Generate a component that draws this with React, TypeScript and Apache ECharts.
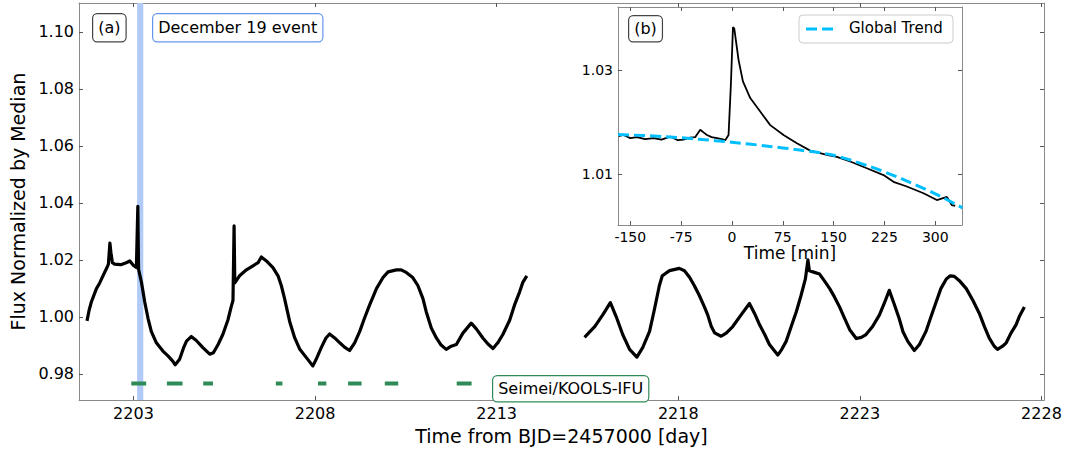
import React, { useEffect, useRef } from "react";
import * as echarts from "echarts";

// ---------- axis ticks ----------
const dayTicks = [2203, 2208, 2213, 2218, 2223, 2228];
const fluxTicks = [0.98, 1.0, 1.02, 1.04, 1.06, 1.08, 1.1];
const minuteTicks = [-150, -75, 0, 75, 150, 225, 300];
const insetFluxTicks = [1.01, 1.03];

// ---------- main light curve (two observing segments) ----------
const days1 = [
  2201.72, 2201.78, 2201.84, 2201.98, 2202.07, 2202.16, 2202.27, 2202.31, 2202.35, 2202.38,
  2202.42, 2202.48, 2202.65, 2202.8, 2202.9, 2203.0, 2203.08, 2203.12, 2203.14, 2203.22,
  2203.31, 2203.4, 2203.49, 2203.63, 2203.81, 2203.95, 2204.08, 2204.15, 2204.27, 2204.38,
  2204.46, 2204.59, 2204.73, 2204.91, 2205.1, 2205.2, 2205.33, 2205.46, 2205.6, 2205.69,
  2205.74, 2205.77, 2205.79, 2205.92, 2206.11, 2206.29, 2206.43, 2206.52, 2206.66, 2206.84,
  2206.98, 2207.07, 2207.16, 2207.3, 2207.44, 2207.58, 2207.76, 2207.94, 2208.03, 2208.17,
  2208.3, 2208.4, 2208.54, 2208.68, 2208.81, 2208.95, 2209.09, 2209.23, 2209.36, 2209.5,
  2209.69, 2209.87, 2210.01, 2210.24, 2210.37, 2210.51, 2210.69, 2210.83, 2210.97, 2211.06,
  2211.2, 2211.34, 2211.47, 2211.61, 2211.75, 2211.89, 2212.07, 2212.3, 2212.44, 2212.62,
  2212.76, 2212.9, 2213.03, 2213.17, 2213.36, 2213.49, 2213.63, 2213.72, 2213.83,
];
const flux1 = [
  0.9986, 1.0024, 1.0052, 1.0099, 1.0119, 1.0144, 1.0173, 1.0185, 1.0259, 1.0224,
  1.019, 1.0185, 1.0183, 1.019, 1.0196, 1.018, 1.0173, 1.0388, 1.0167, 1.0121,
  1.0052, 0.9995, 0.9949, 0.9909, 0.988, 0.9863, 0.9845, 0.9832, 0.9851, 0.9892,
  0.9915, 0.9931, 0.9917, 0.9892, 0.9869, 0.9874, 0.9903, 0.9938, 0.9989, 1.0035,
  1.0058, 1.0319, 1.0119, 1.0144, 1.0165, 1.0179, 1.019, 1.021, 1.0196, 1.0173,
  1.0144, 1.011, 1.0064, 0.9984, 0.9926, 0.9886, 0.9857, 0.9828, 0.9851, 0.9892,
  0.9926, 0.994, 0.9926, 0.9909, 0.9894, 0.9882, 0.9909, 0.9949, 0.9995, 1.0041,
  1.0099, 1.0138, 1.0158, 1.0165, 1.0165, 1.0156, 1.0138, 1.011, 1.0064, 1.0018,
  0.9961, 0.9926, 0.9901, 0.9886, 0.9897, 0.9903, 0.9943, 0.9978, 0.9958, 0.9926,
  0.9905, 0.9889, 0.9909, 0.9938, 0.9989, 1.0041, 1.0087, 1.0121, 1.0144,
];
const days2 = [
  2215.42, 2215.56, 2215.7, 2215.92, 2216.13, 2216.29, 2216.47, 2216.66, 2216.86, 2217.02,
  2217.21, 2217.34, 2217.48, 2217.56, 2217.76, 2218.03, 2218.17, 2218.31, 2218.44, 2218.58,
  2218.72, 2218.81, 2218.91, 2219.0, 2219.18, 2219.32, 2219.5, 2219.73, 2219.96, 2220.1,
  2220.24, 2220.38, 2220.51, 2220.74, 2220.85, 2220.97, 2221.11, 2221.25, 2221.38, 2221.5,
  2221.57, 2221.61, 2221.75, 2221.89, 2222.02, 2222.17, 2222.3, 2222.44, 2222.58, 2222.72,
  2222.9, 2223.04, 2223.17, 2223.35, 2223.54, 2223.67, 2223.81, 2223.94, 2224.08, 2224.19,
  2224.32, 2224.5, 2224.64, 2224.82, 2224.96, 2225.1, 2225.23, 2225.38, 2225.49, 2225.6,
  2225.74, 2225.93, 2226.11, 2226.29, 2226.43, 2226.56, 2226.7, 2226.79, 2226.93, 2227.03,
  2227.16, 2227.3, 2227.39, 2227.53,
];
const flux2 = [
  0.9928, 0.9947, 0.9966, 1.0007, 1.005, 1.0001, 0.9938, 0.9886, 0.9859, 0.9892,
  0.9949, 1.0024, 1.011, 1.0144, 1.0162, 1.017, 1.0162, 1.0139, 1.011, 1.0075,
  1.0035, 1.0007, 0.9966, 0.9944, 0.9932, 0.9943, 0.9966, 1.0007, 1.0047, 1.0012,
  0.9972, 0.9938, 0.9903, 0.9866, 0.9886, 0.9914, 0.9966, 1.0018, 1.0075, 1.0133,
  1.02, 1.0162, 1.0156, 1.015, 1.0127, 1.0099, 1.007, 1.0035, 0.9995, 0.9955,
  0.9924, 0.9928, 0.9938, 0.9966, 1.0007, 1.0047, 1.0093, 1.0047, 0.9995, 0.9947,
  0.9914, 0.9882, 0.9903, 0.9949, 1.0001, 1.0052, 1.0099, 1.0133, 1.0144, 1.0142,
  1.0127, 1.0099, 1.0058, 1.0012, 0.9966, 0.9926, 0.9897, 0.9886, 0.9897, 0.9909,
  0.9943, 0.9972, 1.0001, 1.0035,
];

// ---------- event band & spectroscopic coverage ----------
const eventBand = [2203.1, 2203.27];
const obsStart = [2202.94, 2203.92, 2204.92, 2206.92, 2208.08, 2208.91, 2209.92, 2211.9];
const obsEnd = [2203.35, 2204.35, 2205.19, 2207.1, 2208.31, 2209.28, 2210.29, 2212.31];
const obsLevel = 0.9766;

// ---------- inset (b): flare in minutes ----------
const insetMinutes = [
  -167.2, -160, -150, -140, -128, -115.6, -104, -91, -80, -71.4,
  -62, -54.1, -46.7, -42, -36.9, -30, -22.1, -15, -9.9, -5,
  -1.5, 1.5, 3.4, 9.8, 16.2, 27, 41.7, 56.5, 76.1, 95.8,
  115.5, 140, 154.8, 174.4, 199, 223.6, 238.3, 258, 282.6, 302.3,
  317.1, 324.5, 329.4,
];
const insetFlux = [
  1.0173, 1.0175, 1.0169, 1.0171, 1.0167, 1.0169, 1.0166, 1.0172, 1.0165, 1.0166,
  1.017, 1.0171, 1.0185, 1.018, 1.0175, 1.0171, 1.0169, 1.0167, 1.0165, 1.0175,
  1.0274, 1.0382, 1.038, 1.0319, 1.0278, 1.0246, 1.022, 1.0194, 1.0175, 1.0159,
  1.0145, 1.0137, 1.0133, 1.0124, 1.0111, 1.0098, 1.0085, 1.0076, 1.0063, 1.005,
  1.0056, 1.004, 1.0039,
];
const trendMinutes = [-168, -100, -50, 0, 50, 100, 150, 200, 250, 300, 340];
const trendFlux = [1.0176, 1.0172, 1.0167, 1.0161, 1.0154, 1.0146, 1.0136, 1.0116, 1.0091, 1.0062, 1.0035];

const FONT = "DejaVu Sans";
const SPINE = "#8a8a8a";

const zip = (xs: number[], ys: number[]) => xs.map((x, i) => [x, ys[i]]);

function valueAxis(opts: any) {
  const { gridIndex, position, min, max, ticks, labels, fontSize, fmt, extra } = opts;
  return {
    type: "value",
    gridIndex,
    position,
    min,
    max,
    splitLine: { show: false },
    axisLine: { show: true, onZero: false, lineStyle: { color: SPINE, width: 1 } },
    axisTick: { show: true, inside: true, length: 4, customValues: ticks, lineStyle: { color: "#555" } },
    axisLabel: {
      show: labels,
      customValues: ticks,
      formatter: fmt,
      color: "#000",
      fontFamily: FONT,
      fontSize,
      margin: 5,
    },
    ...(extra || {}),
  };
}

export default function App() {
  const ref = useRef<HTMLDivElement>(null);
  useEffect(() => {
    if (!ref.current) return;
    const chart = echarts.init(ref.current, undefined, { renderer: "svg" });

    const obsData: any[] = [];
    obsStart.forEach((s, i) => {
      obsData.push([s, obsLevel]);
      obsData.push([obsEnd[i], obsLevel]);
      obsData.push([(obsEnd[i] + (obsStart[i + 1] ?? obsEnd[i] + 1)) / 2, "-"]);
    });

    const mainData: any[] = [...zip(days1, flux1), [2214.6, "-"], ...zip(days2, flux2)];

    const textBox = (text: string, left: number, top: number, border: string, pad: number[]) => ({
      type: "text",
      left,
      top,
      z: 100,
      style: {
        text,
        font: `16px "${FONT}"`,
        fill: "#000",
        backgroundColor: "#fff",
        borderColor: border,
        borderWidth: 1.2,
        borderRadius: 4,
        padding: pad,
        lineHeight: 17,
      },
    });

    const option: any = {
      animation: false,
      backgroundColor: "#fff",
      grid: [
        { left: 79, top: 3, width: 965, height: 404, containLabel: false },
        {
          left: 618,
          top: 7,
          width: 344,
          height: 218,
          containLabel: false,
          show: true,
          backgroundColor: "#fff",
          borderWidth: 0,
          z: 10,
        },
      ],
      xAxis: [
        valueAxis({
          gridIndex: 0, position: "bottom", min: 2201.5, max: 2228.07, ticks: dayTicks, labels: true,
          fontSize: 16, fmt: (v: number) => String(v),
          extra: {
            name: "Time from BJD=2457000 [day]",
            nameLocation: "middle",
            nameGap: 20,
            nameTextStyle: { fontFamily: FONT, fontSize: 19, color: "#000" },
          },
        }),
        valueAxis({ gridIndex: 0, position: "top", min: 2201.5, max: 2228.07, ticks: dayTicks, labels: false }),
        valueAxis({
          gridIndex: 1, position: "bottom", min: -168.1, max: 339.4, ticks: minuteTicks, labels: true,
          fontSize: 14, fmt: (v: number) => String(v),
          extra: {
            z: 12,
            name: "Time [min]",
            nameLocation: "middle",
            nameGap: 18,
            nameTextStyle: { fontFamily: FONT, fontSize: 17, color: "#000" },
          },
        }),
        valueAxis({ gridIndex: 1, position: "top", min: -168.1, max: 339.4, ticks: minuteTicks, labels: false, extra: { z: 12 } }),
      ],
      yAxis: [
        valueAxis({
          gridIndex: 0, position: "left", min: 0.9708, max: 1.1101, ticks: fluxTicks, labels: true,
          fontSize: 16, fmt: (v: number) => v.toFixed(2),
          extra: {
            name: "Flux Normalized by Median",
            nameLocation: "middle",
            nameGap: 46,
            nameTextStyle: { fontFamily: FONT, fontSize: 19, color: "#000" },
          },
        }),
        valueAxis({ gridIndex: 0, position: "right", min: 0.9708, max: 1.1101, ticks: fluxTicks, labels: false }),
        valueAxis({
          gridIndex: 1, position: "left", min: 1.0002, max: 1.0421, ticks: insetFluxTicks, labels: true,
          fontSize: 14, fmt: (v: number) => v.toFixed(2), extra: { z: 12 },
        }),
        valueAxis({ gridIndex: 1, position: "right", min: 1.0002, max: 1.0421, ticks: insetFluxTicks, labels: false, extra: { z: 12 } }),
      ],
      series: [
        {
          name: "TESS",
          type: "line",
          xAxisIndex: 0,
          yAxisIndex: 0,
          data: mainData,
          showSymbol: false,
          connectNulls: false,
          lineStyle: { color: "#000", width: 3.2, join: "round" },
          markArea: {
            silent: true,
            itemStyle: { color: "#b1caf6", opacity: 1 },
            data: [[{ xAxis: eventBand[0] }, { xAxis: eventBand[1] }]],
          },
          z: 3,
        },
        {
          name: "Seimei/KOOLS-IFU",
          type: "line",
          xAxisIndex: 0,
          yAxisIndex: 0,
          data: obsData,
          showSymbol: false,
          connectNulls: false,
          lineStyle: { color: "#2e8b57", width: 4, cap: "butt" },
          z: 3,
        },
        {
          name: "Flare",
          type: "line",
          xAxisIndex: 2,
          yAxisIndex: 2,
          data: zip(insetMinutes, insetFlux),
          showSymbol: false,
          lineStyle: { color: "#000", width: 1.8 },
          z: 13,
        },
        {
          name: "Global Trend",
          type: "line",
          xAxisIndex: 2,
          yAxisIndex: 2,
          data: zip(trendMinutes, trendFlux),
          showSymbol: false,
          smooth: 0.3,
          lineStyle: { color: "#00bfff", width: 3, type: [11, 5] },
          z: 14,
        },
      ],
      graphic: [
        textBox("(a)", 92, 13, "#444", [5, 5]),
        textBox("December 19 event", 152, 13, "#6495ed", [5, 5]),
        textBox("Seimei/KOOLS-IFU", 492, 375, "#2e8b57", [4, 5]),
        textBox("(b)", 628, 15, "#444", [4, 5]),
        {
          type: "rect",
          z: 100,
          shape: { x: 799, y: 15, width: 154, height: 28, r: 4 },
          style: { fill: "#fff", stroke: "#cccccc", lineWidth: 1 },
        },
        {
          type: "line",
          z: 101,
          shape: { x1: 806, y1: 29, x2: 834, y2: 29 },
          style: { stroke: "#00bfff", lineWidth: 3, lineDash: [11, 5] },
        },
        {
          type: "text",
          z: 101,
          left: 849,
          top: 20,
          style: { text: "Global Trend", font: `15px "${FONT}"`, fill: "#000" },
        },
      ],
    };
    chart.setOption(option);
    return () => chart.dispose();
  }, []);
  return (
    <div
      ref={ref}
      style={{ position: "absolute", left: 0, top: 0, width: 1065, height: 450 }}
    />
  );
}
